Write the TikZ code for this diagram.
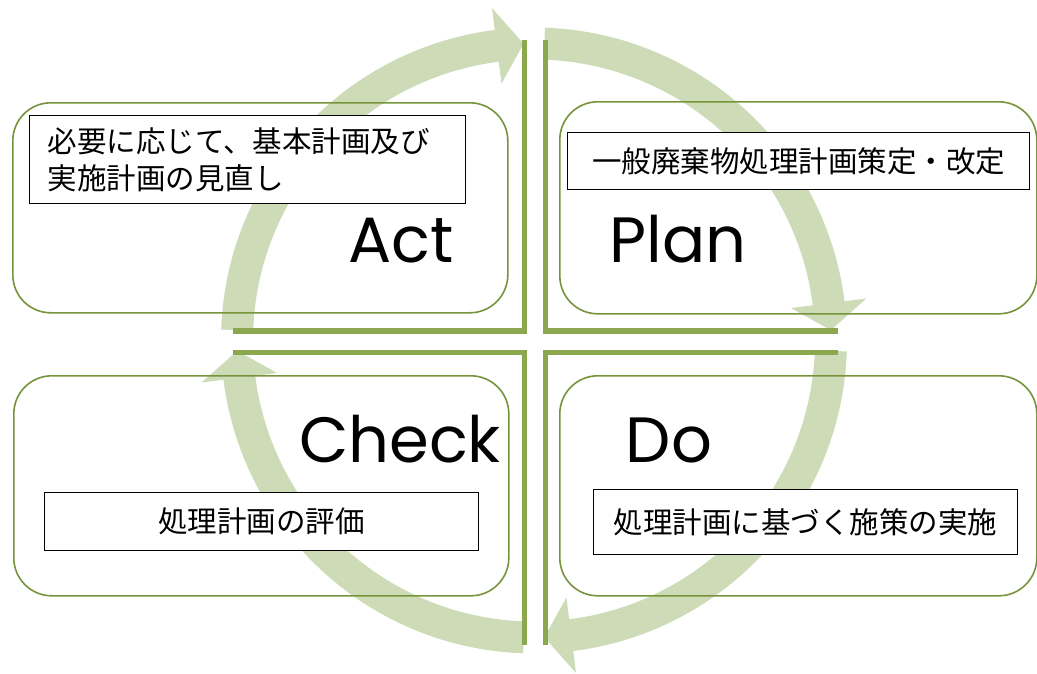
\documentclass[tikz,border=0pt]{standalone}
\usepackage{fontspec}
\newfontfamily\jpfont{Noto Sans CJK JP}
\newfontfamily\cyclefont{Poppins}
\definecolor{ringgreen}{RGB}{205,219,183}
\definecolor{rimgreen}{RGB}{119,147,60}
\definecolor{crossgreen}{RGB}{140,168,78}
\tikzstyle{phase} = [rectangle, rounded corners=38pt, draw=rimgreen, line width=1.6pt, anchor=north west]
\tikzstyle{note} = [rectangle, draw=black, fill=white, line width=1.4pt, anchor=north west, inner sep=0pt,
font=\jpfont\fontsize{29.5pt}{37pt}\selectfont]
\tikzstyle{stage} = [anchor=base, inner sep=0pt, font=\cyclefont\fontsize{64pt}{64pt}\selectfont]
\tikzstyle{ring} = [fill=ringgreen]
\tikzstyle{divider} = [draw=crossgreen, line width=5.5pt]

\begin{document}
\begin{tikzpicture}[x=1pt, y=-1pt]
    \useasboundingbox (0,0) rectangle (1037,673);

    % cycle arrows, centre of the ring at (534,340.5)
    \begin{scope}[shift={(534,340.5)}]
        \fill[ring] (182:313) arc[start angle=182, end angle=262.8, radius=313] -- (262.8:335) -- (268:297)
        -- (262.8:259) -- (262.8:281) arc[start angle=262.8, end angle=182, radius=281] -- cycle;
        \fill[ring] (272:313) arc[start angle=272, end angle=352.8, radius=313] -- (352.8:335) -- (358:297)
        -- (352.8:259) -- (352.8:281) arc[start angle=352.8, end angle=272, radius=281] -- cycle;
        \fill[ring] (2:313) arc[start angle=2, end angle=82.8, radius=313] -- (82.8:335) -- (88:297)
        -- (82.8:259) -- (82.8:281) arc[start angle=82.8, end angle=2, radius=281] -- cycle;
        \fill[ring] (92:313) arc[start angle=92, end angle=172.8, radius=313] -- (172.8:335) -- (178:297)
        -- (172.8:259) -- (172.8:281) arc[start angle=172.8, end angle=92, radius=281] -- cycle;
    \end{scope}

    \node[phase, minimum width=495pt, minimum height=210pt](actBox) at (12,102) {};
    \node[phase, minimum width=477pt, minimum height=212pt](planBox) at (559,101) {};
    \node[phase, minimum width=495pt, minimum height=220pt](checkBox) at (13,375) {};
    \node[phase, minimum width=477pt, minimum height=220pt](doBox) at (559,375) {};

    \draw[divider] (524.5,40) |- (233,331);
    \draw[divider] (545.5,40) |- (838,331);
    \draw[divider] (524.5,645) |- (233,352.5);
    \draw[divider] (545.5,645) |- (838,352.5);

    \node[note, minimum width=436pt, minimum height=88pt, text width=400pt, align=left](actNote) at (29,115)
    {必要に応じて、基本計画及び\\実施計画の見直し};
    \node[note, minimum width=462pt, minimum height=57pt](planNote) at (567,132) {一般廃棄物処理計画策定・改定};
    \node[note, minimum width=434pt, minimum height=58pt](checkNote) at (44,492) {処理計画の評価};
    \node[note, minimum width=424pt, minimum height=65pt](doNote) at (593,489) {処理計画に基づく施策の実施};

    \node[stage](actLabel) at (401,262) {Act};
    \node[stage](planLabel) at (678,262) {Plan};
    \node[stage](checkLabel) at (400,462) {Check};
    \node[stage](doLabel) at (669,462) {Do};
\end{tikzpicture}
\end{document}
